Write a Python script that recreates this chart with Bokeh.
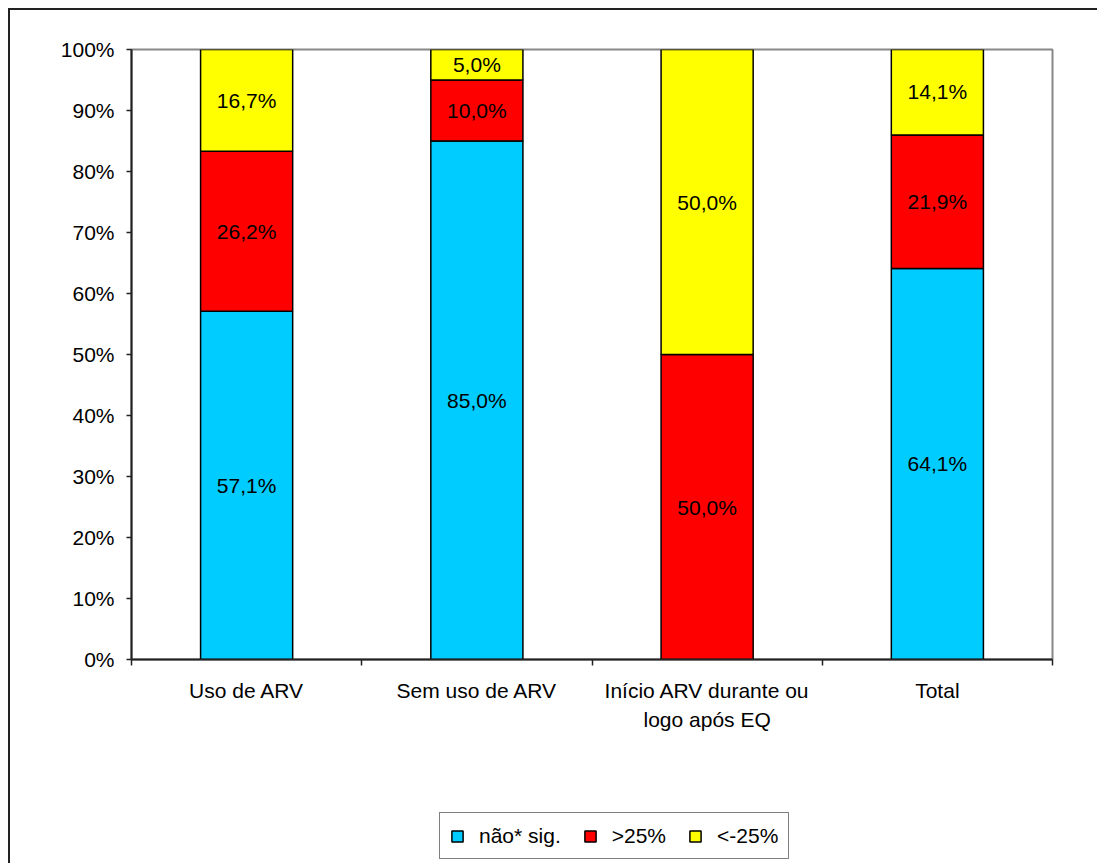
from bokeh.plotting import figure
from bokeh.layouts import column
from bokeh.models import FixedTicker, Legend, LegendItem, ColumnDataSource, Range1d
from bokeh.core.properties import value
from bokeh.embed import file_html
from bokeh.resources import INLINE

# Categories and stacked shares (%)
categories = ["Uso de ARV", "Sem uso de ARV", "Início ARV durante ou\nlogo após EQ", "Total"]
nao_sig = [57.1, 85.0, 0.0, 64.1]
acima_25 = [26.2, 10.0, 50.0, 21.9]
abaixo_25 = [16.7, 5.0, 50.0, 14.1]
series_names = ["não* sig.", ">25%", "<-25%"]
series_colors = ["#00CCFF", "#FF0000", "#FFFF00"]
y_ticks = list(range(0, 101, 10))

FONT = "Liberation Sans"
FS = "21px"

x_pos = [i + 0.5 for i in range(len(categories))]
source = ColumnDataSource(dict(x=x_pos, nao=nao_sig, acima=acima_25, abaixo=abaixo_25))
stack_cols = ["nao", "acima", "abaixo"]

p = figure(
    frame_width=921, frame_height=610,
    min_border_left=121, min_border_right=45, min_border_top=39, min_border_bottom=130,
    x_range=Range1d(0, len(categories)), y_range=Range1d(0, 100),
    output_backend="svg", toolbar_location=None, tools="",
)

p.vbar_stack(
    stack_cols, x="x", width=0.4, source=source,
    fill_color=series_colors, line_color="black", line_width=1.5,
)

# Segment value labels
lx, ly, lt = [], [], []
for i, x in enumerate(x_pos):
    base = 0.0
    for vals in (nao_sig, acima_25, abaixo_25):
        v = vals[i]
        if v > 0:
            lx.append(x)
            ly.append(base + v / 2)
            lt.append(f"{v:.1f}%".replace(".", ","))
        base += v
p.text(x=lx, y=ly, text=lt, text_align="center", text_baseline="middle",
       text_font=value(FONT), text_font_size=FS, text_color="black")

# Frame and grid
p.xgrid.grid_line_color = None
p.ygrid.grid_line_color = None
p.outline_line_color = "#888888"
p.outline_line_width = 2
p.background_fill_color = "white"
p.border_fill_color = "white"

# Y axis
ya = p.yaxis[0]
ya.ticker = FixedTicker(ticks=y_ticks, minor_ticks=[])
ya.major_label_overrides = {t: f"{t}%" for t in y_ticks}
ya.major_label_text_font = FONT
ya.major_label_text_font_size = FS
ya.major_label_text_color = "black"
ya.major_tick_out = 5
ya.major_tick_in = 0
ya.major_label_standoff = 12
ya.axis_line_color = "#222222"
ya.axis_line_width = 2
ya.major_tick_line_color = "#222222"
ya.major_tick_line_width = 1.5

# X axis: labels centred on bars, ticks between categories
xa = p.xaxis[0]
xa.ticker = FixedTicker(ticks=x_pos, minor_ticks=list(range(len(categories) + 1)))
xa.major_label_overrides = {x: c for x, c in zip(x_pos, categories)}
xa.major_label_text_font = FONT
xa.major_label_text_font_size = FS
xa.major_label_text_color = "black"
xa.major_label_text_line_height = 1.3
xa.major_tick_out = 0
xa.major_tick_in = 0
xa.minor_tick_out = 6
xa.minor_tick_in = 0
xa.minor_tick_line_color = "#222222"
xa.minor_tick_line_width = 1.5
xa.major_label_standoff = 13
xa.axis_line_color = "#222222"
xa.axis_line_width = 2

# Legend strip underneath the chart; its stack renderers are squeezed into
# a small patch that the opaque legend box covers, so only swatches show
lg = figure(
    frame_width=1087, frame_height=853 - (39 + 610 + 130),
    min_border=0, x_axis_type=None, y_axis_type=None,
    x_range=Range1d(-30, 34), y_range=Range1d(-250, 450),
    output_backend="svg", toolbar_location=None, tools="",
)
lg.outline_line_color = None
lg.xgrid.grid_line_color = None
lg.ygrid.grid_line_color = None
swatches = lg.vbar_stack(
    stack_cols, x="x", width=0.4, source=source,
    fill_color=series_colors, line_color="black", line_width=1.5,
)
items = [LegendItem(label=n, renderers=[r]) for n, r in zip(series_names, swatches)]
legend = Legend(
    items=items, orientation="horizontal", location=(429, 4),
    glyph_width=14, glyph_height=14, label_standoff=15, spacing=22,
    padding=10, margin=0, label_height=25,
    label_text_font=FONT, label_text_font_size=FS, label_text_color="black",
    border_line_color="black", border_line_width=1.2, background_fill_color="white",
    background_fill_alpha=1.0,
)
lg.add_layout(legend, "center")

page = column(p, lg, spacing=0)
page.styles = {"margin-left": "8px", "margin-top": "8px",
               "border-left": "2px solid #222222", "border-top": "2px solid #222222"}

open("out.html", "w").write(file_html(page, INLINE))
